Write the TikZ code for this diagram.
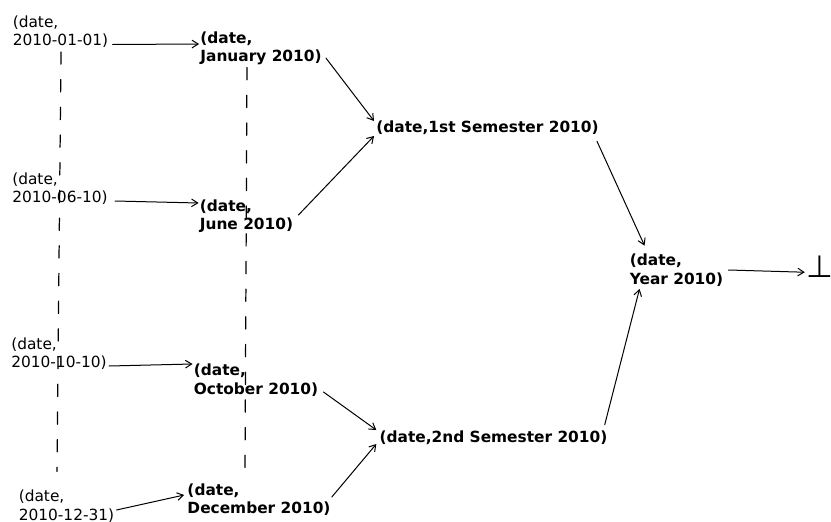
\documentclass[tikz,border=0pt]{standalone}
\usepackage{fontspec}
\setmainfont{DejaVu Sans}
\usetikzlibrary{calc,arrows.meta}

\begin{document}
\begin{tikzpicture}[x=0.65pt, y=-0.65pt, font=\fontsize{10}{12}\selectfont, line cap=round, line join=round]
	\useasboundingbox (0,0) rectangle (831,522);
	\tikzset{day/.style={align=left, inner sep=0pt},
		period/.style={day, font=\fontsize{10}{12}\selectfont\bfseries},
		link/.style={-{Straight Barb[length=4pt,width=5pt]}, line width=0.65pt},
		timeline/.style={line width=0.8pt, dash pattern=on 8pt off 10pt}}
	
	% ---- days (left column) ----
	\node[day] (d1) at (60.5, 31.5) {(date,\\2010-01-01)};
	\node[day] (d2) at (60, 188.5)  {(date,\\2010-06-10)};
	\node[day] (d3) at (59, 353.5)  {(date,\\2010-10-10)};
	\node[day] (d4) at (66.5, 506)  {(date,\\2010-12-31)};
	
	% ---- months ----
	\node[period] (m1) at (261, 48.5)  {(date,\\January 2010)};
	\node[period] (m2) at (246.5, 216) {(date,\\June 2010)};
	\node[period] (m3) at (256, 380)   {(date,\\October 2010)};
	\node[period] (m4) at (259, 499.5) {(date,\\December 2010)};
	
	% ---- semesters, year, bottom ----
	\node[period] (s1) at (487.5, 128) {(date,1st Semester 2010)};
	\node[period] (s2) at (493.5, 438) {(date,2nd Semester 2010)};
	\node[period] (y)  at (676.5, 270) {(date,\\Year 2010)};
	\node[inner sep=0pt, anchor=base, font=\fontsize{20}{20}\selectfont] (bot) at (819.5, 277) {⊥};
	
	% ---- dashed lines ----
	\draw[timeline] ($(d1.south)+(0.5,4)$) -- ($(d1.south |- d4.north)+(-3.5,-18)$);
	\draw[timeline] ($(m2.center |- m1.south)+(0.5,2)$) -- ($(m2.center |- m4.north)+(-1.5,-12)$);
	
	% ---- arrows ----
	\draw[link] ($(d1.east)+(4,13)$)   -- ($(m1.west)+(-1,-4.5)$);
	\draw[link] ($(d2.east)+(7,12.5)$) -- ($(m2.west)+(-1,-13)$);
	\draw[link] ($(d3.east)+(2,12.5)$) -- ($(m3.west)+(-1,-16)$);
	\draw[link] ($(d4.east)+(2,4)$)    -- ($(m4.west)+(-3,-4.5)$);
	
	\draw[link] ($(m1.east)+(4,9.5)$)  -- ($(s1.west)+(-2,-7)$);
	\draw[link] ($(m2.east)+(5,-1)$)   -- ($(s1.west)+(-2,8)$);
	\draw[link] ($(m3.east)+(5,12)$)   -- ($(s2.west)+(-3,-8)$);
	\draw[link] ($(m4.east)+(1,-2.5)$) -- ($(s2.west)+(-3,6)$);
	
	\draw[link] ($(s1.south east)+(-2,6)$)  -- ($(y.north west)+(15,-8)$);
	\draw[link] ($(s2.north east)+(-3,-6)$) -- ($(y.south west)+(10,2.5)$);
	\draw[link] ($(y.east)+(5,0)$)          -- ($(bot.west)+(-1,6)$);
\end{tikzpicture}
\end{document}
